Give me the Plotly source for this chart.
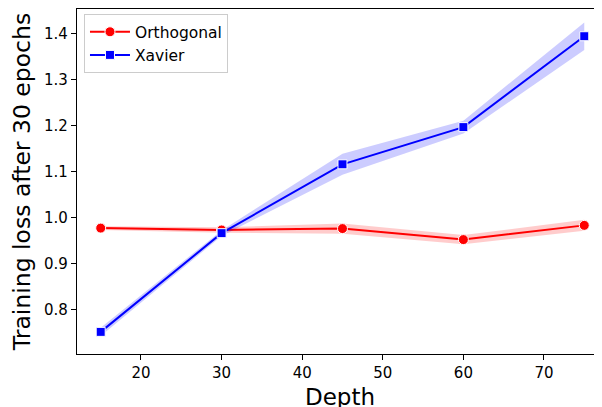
import plotly.graph_objects as go

depth = [15, 30, 45, 60, 75]
ortho_mean = [0.977, 0.973, 0.976, 0.952, 0.983]
ortho_err = [0.004, 0.006, 0.011, 0.010, 0.012]
xavier_mean = [0.751, 0.966, 1.116, 1.197, 1.395]
xavier_err = [0.009, 0.006, 0.023, 0.014, 0.030]
x_ticks = [20, 30, 40, 50, 60, 70]
y_ticks = [0.8, 0.9, 1.0, 1.1, 1.2, 1.3, 1.4]

FONT = "DejaVu Sans"
fig = go.Figure()

def add_series(name, mean, err, color, band, symbol, size):
    upper = [m + e for m, e in zip(mean, err)]
    lower = [m - e for m, e in zip(mean, err)]
    fig.add_trace(go.Scatter(x=depth, y=upper, mode="lines", line=dict(width=0),
                             showlegend=False, hoverinfo="skip"))
    fig.add_trace(go.Scatter(x=depth, y=lower, mode="lines", line=dict(width=0),
                             fill="tonexty", fillcolor=band, showlegend=False, hoverinfo="skip"))
    fig.add_trace(go.Scatter(x=depth, y=mean, mode="lines+markers", name=name,
                             line=dict(color=color, width=2),
                             marker=dict(symbol=symbol, size=size, color=color,
                                         line=dict(color="white", width=1))))

add_series("Orthogonal", ortho_mean, ortho_err, "#ff0000", "rgba(255,0,0,0.2)", "circle", 10)
add_series("Xavier", xavier_mean, xavier_err, "#0000ff", "rgba(0,0,255,0.2)", "square", 9)

# The page body adds an 8px offset, so the figure is 8px smaller and shifted.
fig.update_layout(
    width=594, height=399,
    margin=dict(l=69, r=0, t=1, b=53),
    paper_bgcolor="white", plot_bgcolor="white",
    font=dict(family=FONT, size=15, color="black"),
    legend=dict(x=0.0133, y=0.985, xanchor="left", yanchor="top", traceorder="normal",
                itemwidth=40,
                bgcolor="rgba(255,255,255,0.8)", bordercolor="#cccccc", borderwidth=1,
                font=dict(family=FONT, size=15.5)),
    xaxis=dict(range=[12.06, 77.2], tickvals=x_ticks, showgrid=False, zeroline=False,
               automargin=False,
               showline=True, linecolor="black", linewidth=1.2, mirror=True,
               ticks="outside", ticklen=5, tickwidth=1.2, tickcolor="black",
               tickfont=dict(family=FONT, size=15)),
    yaxis=dict(range=[0.7028, 1.4543], tickvals=y_ticks, tickformat=".1f",
               showgrid=False, zeroline=False, automargin=False,
               showline=True, linecolor="black", linewidth=1.2,
               ticks="outside", ticklen=5, tickwidth=1.2, tickcolor="black",
               tickfont=dict(family=FONT, size=15),
               title=dict(text="Training loss after 30 epochs", font=dict(family=FONT, size=23.5),
                          standoff=8)),
    annotations=[dict(text="Depth", xref="paper", yref="paper", x=0.5, y=0,
                      xanchor="center", yanchor="middle", yshift=-43, showarrow=False,
                      font=dict(family=FONT, size=23, color="black"))],
)

fig.write_html("out.html")
